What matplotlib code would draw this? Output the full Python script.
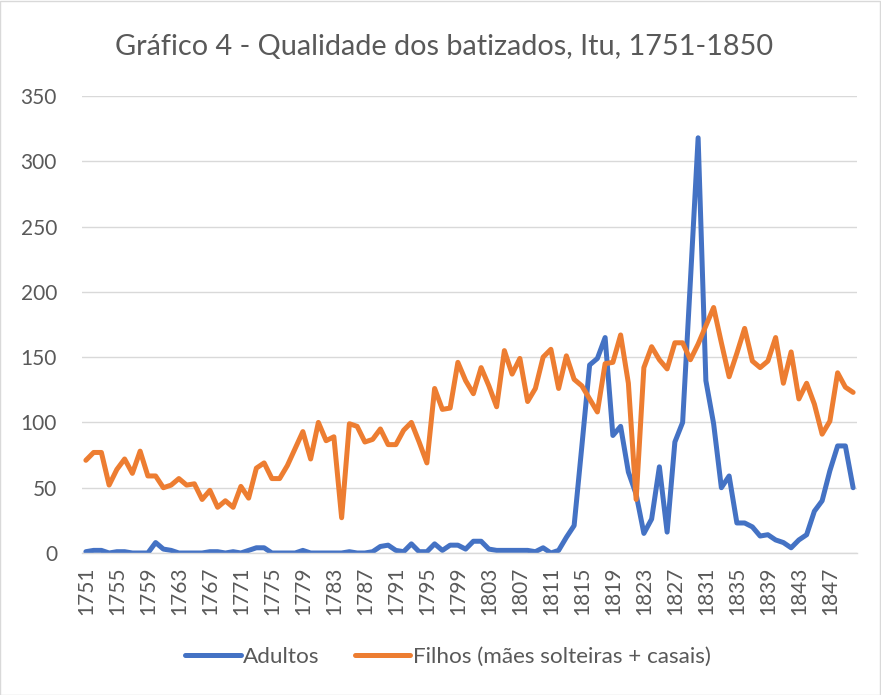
import matplotlib
matplotlib.use("Agg")
import matplotlib.pyplot as plt
from matplotlib.patches import Rectangle

years = list(range(1751, 1851))

adultos = [
    1, 2, 2, 0, 1, 1, 0, 0, 0, 8,
    3, 2, 0, 0, 0, 0, 1, 1, 0, 1,
    0, 2, 4, 4, 0, 0, 0, 0, 2, 0,
    0, 0, 0, 0, 1, 0, 0, 1, 5, 6,
    2, 1, 7, 1, 1, 7, 2, 6, 6, 3,
    9, 9, 3, 2, 2, 2, 2, 2, 1, 4,
    0, 2, 12, 21, 82, 144, 149, 165, 90, 97,
    62, 45, 15, 26, 66, 16, 85, 100, 208, 318,
    132, 99, 50, 59, 23, 23, 20, 13, 14, 10,
    8, 4, 10, 14, 32, 40, 63, 82, 82, 50,
]

filhos = [
    71, 77, 77, 52, 64, 72, 61, 78, 59, 59,
    50, 52, 57, 52, 53, 41, 48, 35, 40, 35,
    51, 42, 65, 69, 57, 57, 67, 80, 93, 72,
    100, 86, 89, 27, 99, 97, 85, 87, 95, 83,
    83, 94, 100, 85, 69, 126, 110, 111, 146, 132,
    122, 142, 128, 112, 155, 137, 149, 116, 126, 150,
    156, 126, 151, 133, 128, 118, 108, 145, 146, 167,
    130, 41, 142, 158, 148, 141, 161, 161, 148, 160,
    174, 188, 161, 135, 153, 172, 147, 142, 147, 165,
    130, 154, 118, 130, 114, 91, 101, 138, 127, 123,
]

title = "Gráfico 4 - Qualidade dos batizados, Itu, 1751-1850"
label_a = "Adultos"
label_f = "Filhos (mães solteiras + casais)"
yticks = [0, 50, 100, 150, 200, 250, 300, 350]
xtick_years = list(range(1751, 1851, 4))

plt.rcParams['font.family'] = ['Lato', 'DejaVu Sans']
text_color = "#595959"
grid_color = "#D9D9D9"

fig = plt.figure(figsize=(8.81, 6.95), dpi=100)
fig.patch.set_facecolor("white")
fig.add_artist(Rectangle((0.0005, 0.0007), 0.998, 0.998, transform=fig.transFigure,
                         fill=False, edgecolor=grid_color, linewidth=1))

ax = fig.add_axes([82/881, 1 - 553/695, 775/881, 457/695])
ax.plot(years, adultos, color="#4472C4", linewidth=3.6, label=label_a,
        solid_joinstyle="round", solid_capstyle="round")
ax.plot(years, filhos, color="#ED7D31", linewidth=3.6, label=label_f,
        solid_joinstyle="round", solid_capstyle="round")

ax.set_xlim(1750.5, 1850.5)
ax.set_ylim(0, 350)
ax.set_yticks(yticks)
ax.set_xticks(xtick_years)
ax.set_xticklabels([str(y) for y in xtick_years], rotation=90, fontsize=15,
                   color=text_color)
ax.set_yticklabels([str(v) for v in yticks], fontsize=15, color=text_color)
ax.tick_params(axis='both', length=0)
ax.tick_params(axis='y', pad=18)
ax.tick_params(axis='x', pad=10)
ax.grid(axis='y', color=grid_color, linewidth=1)
ax.set_axisbelow(True)
for side in ["left", "right", "top"]:
    ax.spines[side].set_visible(False)
ax.spines["bottom"].set_color(grid_color)
ax.spines["bottom"].set_linewidth(1)

fig.text(444/881, 1 - 47/695, title, ha="center", va="center",
         fontsize=20.8, color=text_color)

fig.legend(loc="center", bbox_to_anchor=(448/881, 1 - 657/695), ncol=2,
           frameon=False, fontsize=16.2, handlelength=2.45, columnspacing=1.6,
           handletextpad=0.1, labelcolor=text_color)

fig.savefig("out.png", dpi=100, facecolor="white")
